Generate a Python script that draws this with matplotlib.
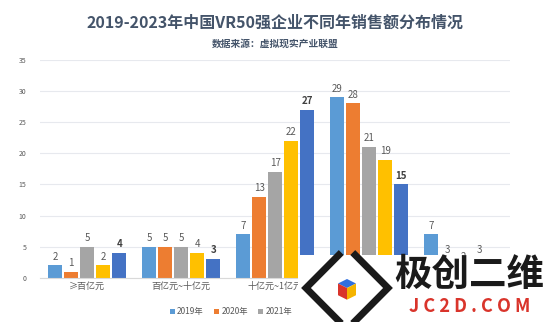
import matplotlib.pyplot as plt
import matplotlib.patches as mpatches
import numpy as np

plt.rcParams['font.family'] = ['Noto Sans CJK SC', 'DejaVu Sans']

# -----------------------------
# Data
# -----------------------------
categories = ["≥百亿元", "百亿元~十亿元", "十亿元~1亿元", "1亿元~5000万元", "<5000万元"]
years = ["2019年", "2020年", "2021年", "2022年", "2023年"]
v2019 = [2, 5, 7, 29, 7]
v2020 = [1, 5, 13, 28, 3]
v2021 = [5, 5, 17, 21, 2]
v2022 = [2, 4, 22, 19, 3]
v2023 = [4, 3, 27, 15, 1]
series = [v2019, v2020, v2021, v2022, v2023]
colors = ["#5B9BD5", "#ED7D31", "#A5A5A5", "#FFC000", "#4472C4"]

# -----------------------------
# Figure
# -----------------------------
fig = plt.figure(figsize=(5.5, 3.22), dpi=100)
ax = fig.add_axes([0.073, 0.137, 0.855, 0.677])

x = np.arange(len(categories))
bw = 0.15
step = 0.17
for i, (vals, c, yr) in enumerate(zip(series, colors, years)):
    pos = x + (i - 2) * step
    bars = ax.bar(pos, vals, width=bw, color=c, label=yr, zorder=2)
    for b, v in zip(bars, vals):
        ax.text(b.get_x() + b.get_width() / 2, v + 0.6, str(v),
                ha="center", va="bottom", fontsize=7,
                color="#404040" if i == 4 else "#595959",
                fontweight="bold" if i == 4 else "normal")

ax.set_xlim(-0.5, len(categories) - 0.5)
ax.set_ylim(0, 35)
ax.set_yticks(range(0, 36, 5))
ax.tick_params(axis="y", labelsize=5, colors="#595959", length=0, pad=10)
ax.set_xticks(x)
ax.set_xticklabels(categories, fontsize=6.5, color="#595959")
ax.tick_params(axis="x", length=0, pad=3)
ax.grid(axis="y", color="#E7E9EE", linewidth=0.8, zorder=0)
for s in ["top", "right", "left"]:
    ax.spines[s].set_visible(False)
ax.spines["bottom"].set_color("#D9D9D9")

ax.legend(loc="upper center", bbox_to_anchor=(0.5, -0.1), ncol=5, frameon=False,
          fontsize=6, handlelength=0.6, handleheight=0.6, columnspacing=1.2,
          handletextpad=0.3, labelcolor="#595959")

fig.text(0.5, 0.93, "2019-2023年中国VR50强企业不同年销售额分布情况", ha="center", va="center",
         fontsize=11.5, fontweight="bold", color="#44546A")
fig.text(0.5, 0.865, "数据来源：虚拟现实产业联盟", ha="center", va="center",
         fontsize=7, fontweight="bold", color="#44546A")

# -----------------------------
# Watermark overlay
# -----------------------------
fig.patches.append(mpatches.Rectangle((298 / 550, 0), 1, 67 / 322, transform=fig.transFigure,
                                      facecolor="white", edgecolor="none", zorder=5))
cx, cy = 347 / 550, 34 / 322
dx, dy = 41 / 550, 33 / 322
left = [(cx - 0.2 * dx, cy + dy), (cx - dx, cy), (cx - 0.2 * dx, cy - dy)]
right = [(cx + 0.2 * dx, cy + dy), (cx + dx, cy), (cx + 0.2 * dx, cy - dy)]
for pts in (left, right):
    xs, ys = zip(*pts)
    fig.add_artist(plt.Line2D(xs, ys, transform=fig.transFigure, color="#1a1a1a",
                              linewidth=5, solid_joinstyle="miter", zorder=6))
s = 9 / 550
sy = 9 / 322
fig.patches.append(mpatches.Polygon([(cx, cy), (cx - s, cy + sy * 0.5), (cx, cy + sy), (cx + s, cy + sy * 0.5)],
                                    closed=True, transform=fig.transFigure, facecolor="#2f6fe0", zorder=7))
fig.patches.append(mpatches.Polygon([(cx, cy), (cx - s, cy + sy * 0.5), (cx - s, cy - sy * 0.8), (cx, cy - sy * 1.3)],
                                    closed=True, transform=fig.transFigure, facecolor="#d9342b", zorder=7))
fig.patches.append(mpatches.Polygon([(cx, cy), (cx + s, cy + sy * 0.5), (cx + s, cy - sy * 0.8), (cx, cy - sy * 1.3)],
                                    closed=True, transform=fig.transFigure, facecolor="#f5b400", zorder=7))
fig.text(469 / 550, 48 / 322, "极创二维", ha="center", va="center", fontsize=27,
         fontweight="black", color="#1a1a1a", zorder=8)
fig.text(470 / 550, 15 / 322, "J C 2 D . C O M", ha="center", va="center", fontsize=13,
         fontweight="bold", color="#d9342b", zorder=8)

plt.savefig("out.png", dpi=100)
